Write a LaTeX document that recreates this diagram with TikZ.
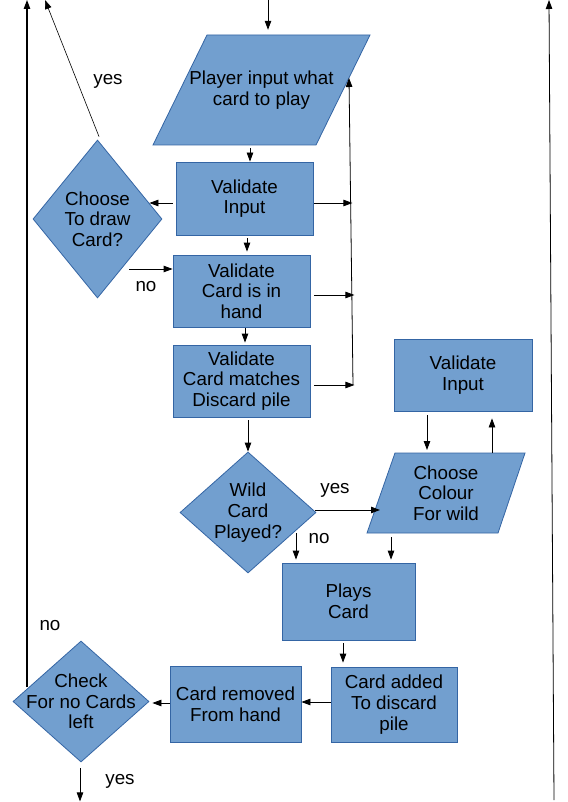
\documentclass[tikz,border=0pt]{standalone}
\usepackage{fontspec}
\setmainfont{Liberation Sans}
\usetikzlibrary{shapes.geometric,arrows.meta,calc}
\definecolor{boxfill}{HTML}{729FCF}
\definecolor{boxline}{HTML}{3465A4}
\begin{document}
\begin{tikzpicture}[x=1pt,y=-1pt,
  txt/.style={font=\fontsize{18.8}{20.7}\selectfont, align=center, text=black},
  proc/.style={rectangle, draw=boxline, fill=boxfill, line width=0.8pt, inner sep=0pt, txt},
  decision/.style={diamond, draw=boxline, fill=boxfill, line width=0.8pt, inner sep=0pt},
  shapeline/.style={draw=boxline, fill=boxfill, line width=0.8pt, line join=miter},
  iotext/.style={rectangle, inner sep=0pt, txt},
  arr/.style={-{Triangle[length=9pt,width=6.5pt]}, line width=0.8pt, black},
  lbl/.style={font=\fontsize{18.8}{20.7}\selectfont, text=black, inner sep=0pt}]
\useasboundingbox (0,0) rectangle (567,802);
\fill[white] (0,0) rectangle (567,802);

% process boxes
\node[proc, minimum width=137, minimum height=73] (vi1) at (244.5,198.5) {Validate\\Input};
\node[proc, minimum width=137, minimum height=72] (vh) at (241.5,291) {Validate\\Card is in\\hand};
\node[proc, minimum width=137, minimum height=72] (vm) at (241.5,381) {Validate\\Card matches\\Discard pile};
\node[proc, minimum width=138, minimum height=72] (vi2) at (463,375) {Validate\\Input};
\node[proc, minimum width=133, minimum height=77] (plays) at (348.5,601.5) {Plays\\Card};
\node[proc, minimum width=126, minimum height=75] (added) at (394,704.5) {Card added\\To discard\\pile};
\node[proc, minimum width=131, minimum height=76] (removed) at (235.5,704) {Card removed\\From hand};

% input/output parallelograms
\filldraw[shapeline] (207,35) -- (370,35) -- (316,145) -- (153,145) -- cycle;
\node[iotext, minimum width=217, minimum height=110] (pin) at (261.5,90) {Player input what\\card to play};
\filldraw[shapeline] (395,453) -- (525,453) -- (498,533) -- (367,533) -- cycle;
\node[iotext, minimum width=158, minimum height=80] (pc) at (446,493) {Choose\\Colour\\For wild};

% decisions
\node[decision, minimum width=129, minimum height=158] (dr) at (97.5,219) {};
\node[txt] at (dr.center) {Choose\\To draw\\Card?};
\node[decision, minimum width=136, minimum height=121] (wild) at (248,512.5) {};
\node[txt] at (wild.center) {Wild\\Card\\Played?};
\node[decision, minimum width=136, minimum height=121] (chk) at (81,701.5) {};
\node[txt] at (chk.center) {Check\\For no Cards\\left};

% free ends
\coordinate (topin) at (268,0);
\coordinate (yesend) at (45,0);
\coordinate (vb) at (353,385);
\coordinate (vt) at (349,78);
\coordinate (lefttop) at (27,0);
\coordinate (rightbot) at (554,800);
\coordinate (righttop) at (549,0);

% connectors
\draw[arr] (topin) -- ($(pin.north)+(6.5,-5)$);
\draw[arr] ($(pin.south)+(-11.5,3)$) -- ($(vi1.north)+(5.5,0)$);
\draw[arr] ($(vi1.west)+(-3,4.5)$) -- ($(dr.east)+(-13,-16)$);
\draw[arr] ($(vi1.east)+(1,4.5)$) -- ($(vi1.east)+(39,4.5)$);
\draw[arr] ($(dr.east)+(-33,50)$) -- ($(vh.west)+(0,-22)$);
\draw[arr, line width=0.6pt] ($(dr.north)+(1.5,-3)$) -- (yesend);
\draw[arr] ($(vi1.south)+(2.5,3)$) -- ($(vh.north)+(5.5,-3)$);
\draw[arr] ($(vh.east)+(4,4)$) -- ($(vh.east)+(44,4)$);
\draw[arr] ($(vh.south)+(3.5,1)$) -- ($(vm.north)+(3.5,-2)$);
\draw[arr] ($(vm.east)+(4,4)$) -- ($(vm.east)+(44,4)$);
\draw[arr] (vb) -- (vt);
\draw[arr] ($(vm.south)+(6.5,3)$) -- (wild.north);
\draw[arr] ($(wild.east)+(-1,-2.5)$) -- ($(pc.center)+(-66,17)$);
\draw[arr] ($(vi2.south)+(-36,4)$) -- ($(pc.center)+(-19,-43)$);
\draw[arr] ($(pc.center)+(46,-40)$) -- ($(vi2.south)+(29,7)$);
\draw[arr] ($(wild.center)+(48,20.5)$) -- ($(plays.north)+(-52.5,-3)$);
\draw[arr] ($(pc.center)+(-55,44)$) -- ($(plays.north)+(42.5,-3)$);
\draw[arr] ($(plays.south)+(-5.5,3)$) -- ($(added.north)+(-51,-4)$);
\draw[arr] ($(added.west)+(0,-2.5)$) -- ($(removed.east)+(0,-2)$);
\draw[arr] ($(removed.west)+(0,-1)$) -- ($(chk.east)+(3,1.5)$);
\draw[arr, line width=1.1pt] ($(chk.center)+(-54,-14.5)$) -- (lefttop);
\draw[arr] ($(chk.south)+(-1,6)$) -- ($(chk.south)+(-1,39)$);
\draw[arr] (rightbot) -- (righttop);

% labels
\node[lbl] at (108,81) {yes};
\node[lbl] at (146,287) {no};
\node[lbl] at (335,490) {yes};
\node[lbl] at (319,539) {no};
\node[lbl] at (50,626) {no};
\node[lbl] at (120,781) {yes};
\end{tikzpicture}
\end{document}
